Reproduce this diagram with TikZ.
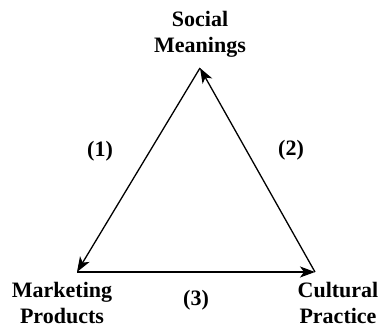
\documentclass[tikz,border=0pt]{standalone}
\usepackage{fontspec}
\setmainfont{Liberation Serif}
\usetikzlibrary{arrows.meta}

\begin{document}
\begin{tikzpicture}[x=1pt,y=-1pt,
    corner/.style={font=\bfseries\fontsize{22}{26}\selectfont, align=center, anchor=base, inner sep=0pt},
    tag/.style={font=\bfseries\fontsize{22}{26}\selectfont, anchor=center, inner sep=0pt},
    link/.style={line width=1.3pt, -{Stealth[length=15pt,width=11pt,inset=4pt]}}]
    \useasboundingbox (0,0) rectangle (378,327);

    % corners of the triangle
    \coordinate (apex) at (200,68);
    \coordinate (left) at (77,272);
    \coordinate (right) at (315,272);

    % anchor=base sits on the last line
    \node[corner] (social) at (200,52) {Social\\Meanings};
    \node[corner] (marketing) at (62,323) {Marketing\\Products};
    \node[corner] (cultural) at (338,323) {Cultural\\Practice};

    \draw[link] (apex) -- (left);
    \draw[link] (right) -- (apex);
    \draw[link] (left) -- (right);

    \node[tag] (one) at (100,151) {(1)};
    \node[tag] (two) at (291,150) {(2)};
    \node[tag] (three) at (196,300) {(3)};
\end{tikzpicture}
\end{document}
